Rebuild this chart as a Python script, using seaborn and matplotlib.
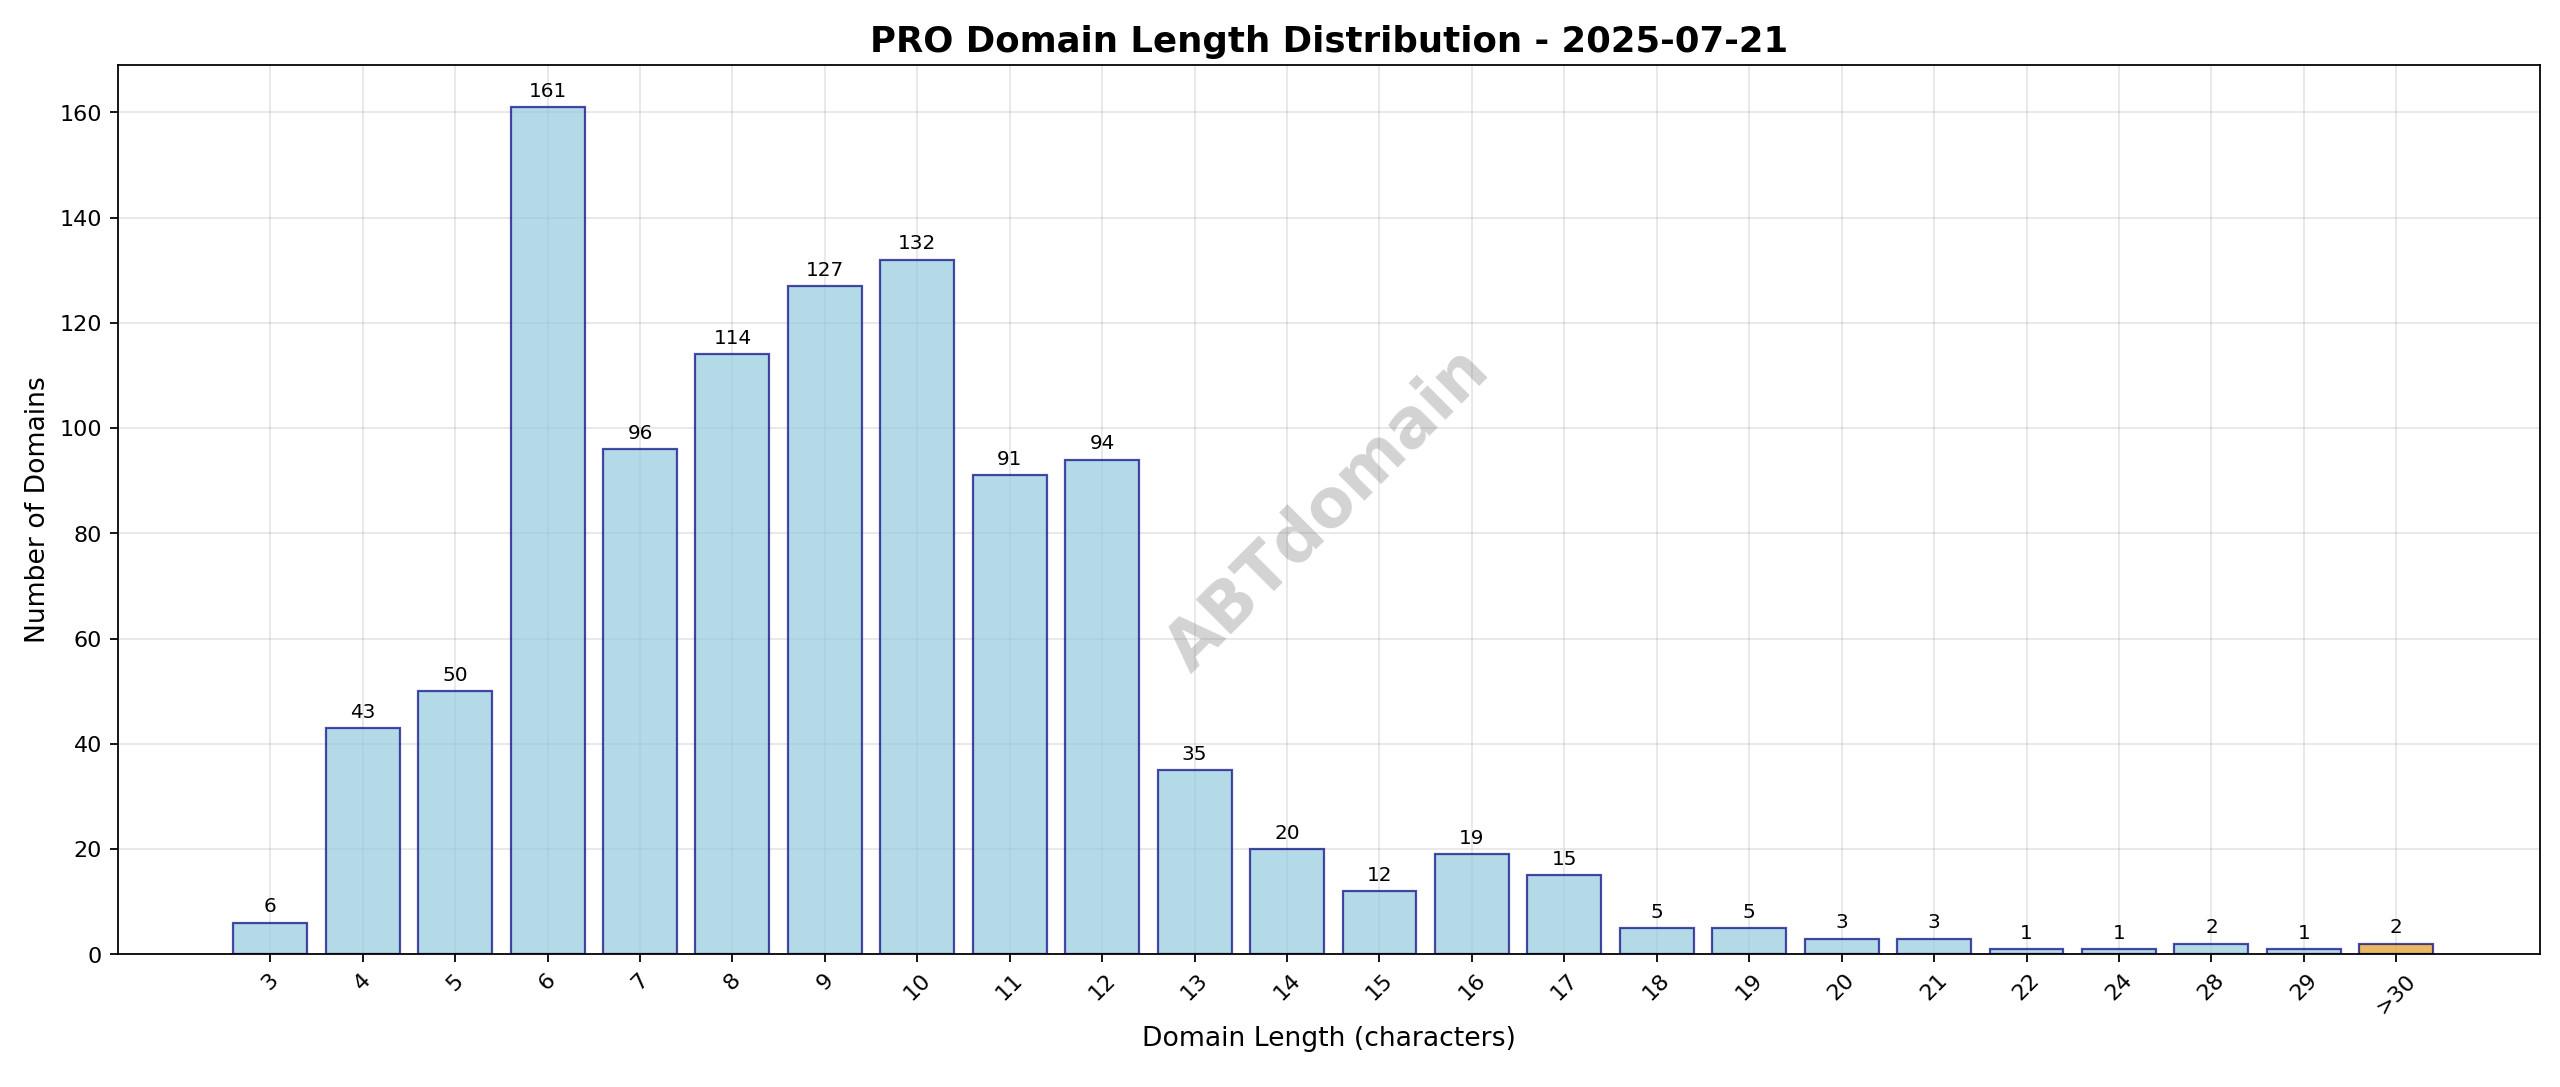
import matplotlib
matplotlib.use("Agg")
import matplotlib.pyplot as plt
import seaborn as sns
import pandas as pd

categories = ["3","4","5","6","7","8","9","10","11","12","13","14","15","16","17","18","19","20","21","22","24","28","29",">30"]
counts = [6,43,50,161,96,114,127,132,91,94,35,20,12,19,15,5,5,3,3,1,1,2,1,2]
kinds = ["normal"]*23 + ["over"]

df = pd.DataFrame({"len": categories, "count": counts, "kind": kinds})
fig, ax = plt.subplots(figsize=(16, 6.795), dpi=160)
sns.barplot(data=df, x="len", y="count", hue="kind", order=categories,
            palette={"normal": "skyblue", "over": "orange"}, dodge=False,
            edgecolor="navy", linewidth=1.0, width=0.8, legend=False, ax=ax, alpha=0.7)
for p in ax.patches:
    p.set_edgecolor((0.0, 0.0, 0.5, 0.7))
for c in ax.containers:
    ax.bar_label(c, padding=3, fontsize=9)
ax.set_xlim(-1.65, len(categories) - 1 + 1.55)
ax.set_ylim(0, 169)
ax.grid(True, alpha=0.3)
ax.set_axisbelow(True)
plt.setp(ax.get_xticklabels(), rotation=45)
ax.set_title("PRO Domain Length Distribution - 2025-07-21", fontsize=16, fontweight="bold")
ax.set_xlabel("Domain Length (characters)", fontsize=12)
ax.set_ylabel("Number of Domains", fontsize=12)
ax.text(0.5, 0.5, "ABTdomain", transform=ax.transAxes, fontsize=30, color="gray",
        alpha=0.35, rotation=45, ha="center", va="center", fontweight="bold")
fig.subplots_adjust(left=0.046, right=0.992, top=0.94, bottom=0.122)
fig.savefig("out.png", dpi=160)
